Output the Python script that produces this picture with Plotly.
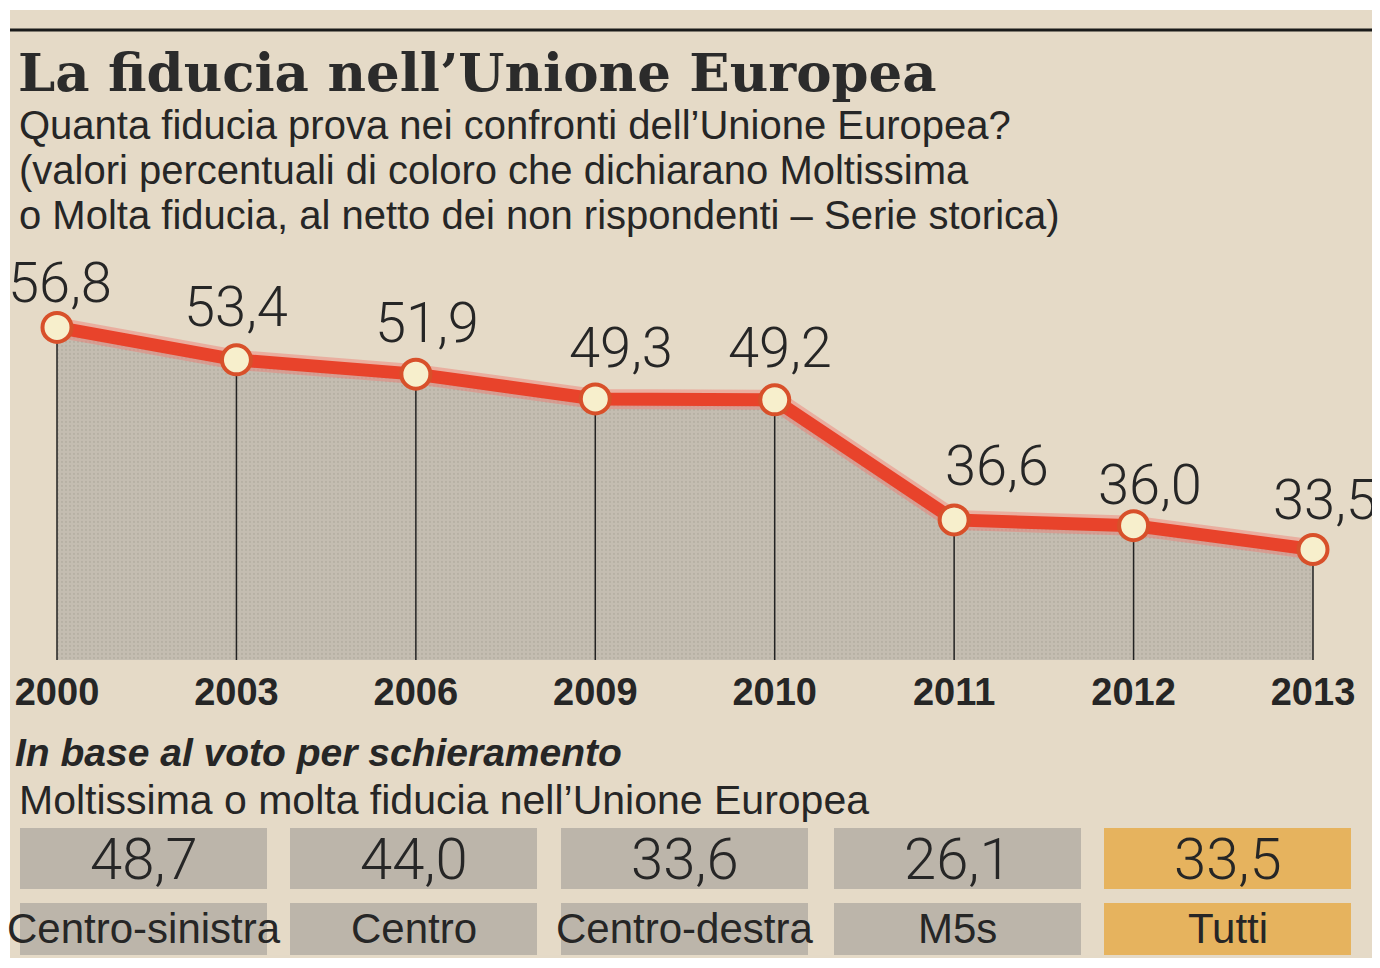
import plotly.graph_objects as go

# ---------------- data ----------------
years = ["2000", "2003", "2006", "2009", "2010", "2011", "2012", "2013"]
fiducia = [56.8, 53.4, 51.9, 49.3, 49.2, 36.6, 36.0, 33.5]

schieramenti = ["Centro-sinistra", "Centro", "Centro-destra", "M5s", "Tutti"]
fiducia_voto = [48.7, 44.0, 33.6, 26.1, 33.5]

# ---------------- style ----------------
OFF = 8                      # page body margin
W, H = 1380 - OFF, 968 - OFF
PAPER = "#e5dac7"
FILL_GREY = "#c4bdb1"
BOX_GREY = "#bcb5aa"
BOX_ORANGE = "#e6b35e"
RED = "#e8432b"
TXT = "#262626"
BASE = 21.9          # axis bottom (baseline of the area)
YTOP = 61.78


def px(x):
    return (x - OFF) / W


def py(y):
    return 1 - (y - OFF) / H


def fmt(v):
    return f"{v:.1f}".replace(".", ",")


xi = list(range(len(years)))

# x range so that index 0 sits at page x=57 and index 7 at x=1313
step = (1313 - 57) / 7
xr = [-(57 - OFF) / step, 7 + (1380 - 1313) / step]

fig = go.Figure()

# area
fig.add_trace(go.Scatter(
    x=xi, y=fiducia, mode="lines", line=dict(width=0, color=FILL_GREY),
    fill="tozeroy", fillcolor=FILL_GREY,
    fillpattern=dict(shape=".", bgcolor=FILL_GREY, fgcolor="#a9a398", size=4, solidity=0.25),
    hoverinfo="skip", showlegend=False))

# drop lines
dx, dy = [], []
for i, v in zip(xi, fiducia):
    dx += [i, i, None]
    dy += [v, BASE, None]
fig.add_trace(go.Scatter(x=dx, y=dy, mode="lines", line=dict(color="#222", width=1.5),
                         hoverinfo="skip", showlegend=False))

# glow + line
fig.add_trace(go.Scatter(x=xi, y=fiducia, mode="lines",
                         line=dict(color="rgba(240,120,110,0.45)", width=20),
                         hoverinfo="skip", showlegend=False))
fig.add_trace(go.Scatter(x=xi, y=fiducia, mode="lines+markers",
                         line=dict(color=RED, width=13),
                         marker=dict(size=29, color="#f7efcc", line=dict(color="#d8502a", width=4)),
                         showlegend=False))

# value labels
LABEL_DX = [3, 0, 11, 26, 5, 43, 16, 12]
LABEL_DY = [44, 53, 51, 51, 52, 54, 41, 49]
for i, v, ddx, ddy in zip(xi, fiducia, LABEL_DX, LABEL_DY):
    fig.add_annotation(x=i, y=v, text=fmt(v), showarrow=False, xref="x", yref="y",
                       xshift=ddx, yshift=ddy,
                       font=dict(family="Roboto", size=56, color=TXT, weight=300))

shapes = []
# paper background
shapes.append(dict(type="rect", xref="paper", yref="paper", x0=px(10), x1=px(1385),
                   y0=py(958), y1=py(10), fillcolor=PAPER, line=dict(width=0), layer="below"))
# top rule
shapes.append(dict(type="line", xref="paper", yref="paper", x0=px(10), x1=px(1385),
                   y0=py(30), y1=py(30), line=dict(color="#1a1a1a", width=3), layer="below"))

# boxes
box_x0 = [20, 290, 561, 834, 1104]
box_w = 247
for k, (name, v) in enumerate(zip(schieramenti, fiducia_voto)):
    col = BOX_ORANGE if k == len(schieramenti) - 1 else BOX_GREY
    x0 = box_x0[k]
    shapes.append(dict(type="rect", xref="paper", yref="paper", x0=px(x0), x1=px(x0 + box_w),
                       y0=py(889), y1=py(828), fillcolor=col, line=dict(width=0), layer="below"))
    shapes.append(dict(type="rect", xref="paper", yref="paper", x0=px(x0), x1=px(x0 + box_w),
                       y0=py(955), y1=py(903), fillcolor=col, line=dict(width=0), layer="below"))
    cx = px(x0 + box_w / 2)
    fig.add_annotation(x=cx, y=py(859), xref="paper", yref="paper", text=fmt(v), showarrow=False,
                       xanchor="center", yanchor="middle",
                       font=dict(family="Roboto", size=58, color=TXT, weight=300))
    fig.add_annotation(x=cx, y=py(928), xref="paper", yref="paper", text=name, showarrow=False,
                       xanchor="center", yanchor="middle",
                       font=dict(family="Liberation Sans", size=42, color=TXT))

# titles
fig.add_annotation(x=px(16), y=py(72), xref="paper", yref="paper", xanchor="left", yanchor="middle",
                   text="<b>La fiducia nell’Unione Europea</b>", showarrow=False,
                   font=dict(family="DejaVu Serif", size=53, color="#2b2b2b"))
sub = ["Quanta fiducia prova nei confronti dell’Unione Europea?",
       "(valori percentuali di coloro che dichiarano Moltissima",
       "o Molta fiducia, al netto dei non rispondenti – Serie storica)"]
for j, line in enumerate(sub):
    fig.add_annotation(x=px(17), y=py(125 + 45 * j), xref="paper", yref="paper", xanchor="left",
                       yanchor="middle", text=line, showarrow=False,
                       font=dict(family="Liberation Sans", size=40, color=TXT))

fig.add_annotation(x=px(13), y=py(752), xref="paper", yref="paper", xanchor="left", yanchor="middle",
                   text="<b><i>In base al voto per schieramento</i></b>", showarrow=False,
                   font=dict(family="Liberation Sans", size=39, color=TXT))
fig.add_annotation(x=px(17), y=py(800), xref="paper", yref="paper", xanchor="left", yanchor="middle",
                   text="Moltissima o molta fiducia nell’Unione Europea", showarrow=False,
                   font=dict(family="Liberation Sans", size=41, color=TXT))

fig.update_layout(
    width=W, height=H,
    margin=dict(l=0, r=0, t=0, b=0),
    paper_bgcolor="white",
    plot_bgcolor="rgba(0,0,0,0)",
    shapes=shapes,
    xaxis=dict(domain=[0, 1], range=xr, tickvals=xi, ticktext=[f"<b>{y}</b>" for y in years],
               showgrid=False, zeroline=False, showline=False, ticks="",
               tickfont=dict(family="Liberation Sans", size=38, color=TXT),
               ticklabelstandoff=6),
    yaxis=dict(domain=[py(660), py(280)], range=[BASE, YTOP], visible=False,
               showgrid=False, zeroline=False),
)

fig.write_html("out.html")
